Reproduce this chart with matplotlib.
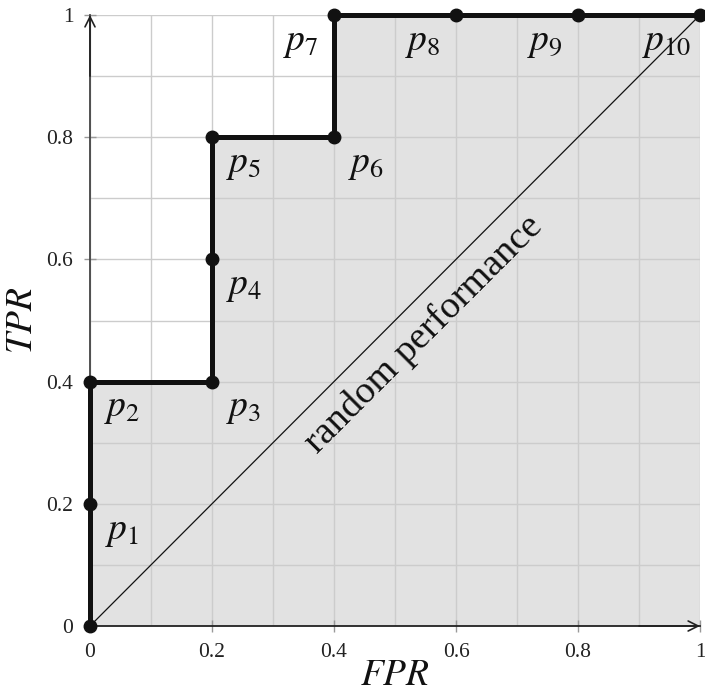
import matplotlib
matplotlib.use("Agg")
import matplotlib.pyplot as plt

fpr = [0, 0, 0, 0.2, 0.2, 0.2, 0.4, 0.4, 0.6, 0.8, 1.0]
tpr = [0, 0.2, 0.4, 0.4, 0.6, 0.8, 0.8, 1.0, 1.0, 1.0, 1.0]
point_labels = ["", "$p_1$", "$p_2$", "$p_3$", "$p_4$", "$p_5$", "$p_6$",
                "$p_7$", "$p_8$", "$p_9$", "$p_{10}$"]
tick_vals = [0, 0.2, 0.4, 0.6, 0.8, 1.0]
tick_labels = ["0", "0.2", "0.4", "0.6", "0.8", "1"]

plt.rcParams['font.family'] = ['Liberation Serif', 'DejaVu Serif']
plt.rcParams['mathtext.fontset'] = 'stix'

fig = plt.figure(figsize=(7.05, 6.96), dpi=100)
ax = fig.add_axes([90/705, 1-626/696, 610/705, 611/696])
ax.set_xlim(0, 1)
ax.set_ylim(0, 1)

ax.fill_between(fpr, tpr, 0, color='#e2e2e2', zorder=0.2, linewidth=0)
ax.set_axisbelow(True)
ax.set_xticks(tick_vals)
ax.set_yticks(tick_vals)
ax.set_xticklabels(tick_labels)
ax.set_yticklabels(tick_labels)
ax.set_xticks([i/10 for i in range(11)], minor=True)
ax.set_yticks([i/10 for i in range(11)], minor=True)
ax.grid(True, which='both', color='#cccccc', linewidth=1.0)
ax.tick_params(which='major', direction='inout', length=8, width=1,
               color='#999999', labelsize=15.5, pad=8, labelcolor='#222222')
ax.tick_params(which='minor', length=0)

for s in ['top', 'right']:
    ax.spines[s].set_visible(False)
ax.spines['left'].set_color('#444444')
ax.spines['bottom'].set_color('#222222')
ax.spines['left'].set_linewidth(1.3)
ax.spines['bottom'].set_linewidth(1.3)

ax.annotate('', xy=(0, 1.0), xytext=(0, 0.9), xycoords='data',
            arrowprops=dict(arrowstyle='->', color='#222222', lw=1.2,
                            mutation_scale=18, shrinkA=0, shrinkB=0),
            annotation_clip=False)
ax.annotate('', xy=(1.0, 0), xytext=(0.9, 0), xycoords='data',
            arrowprops=dict(arrowstyle='->', color='#222222', lw=1.2,
                            mutation_scale=18, shrinkA=0, shrinkB=0),
            annotation_clip=False)

ax.plot([0, 1], [0, 1], color='#111111', lw=0.9, zorder=3)
ax.plot(fpr, tpr, color='#111111', lw=3.6, marker='o', markersize=9,
        clip_on=False, zorder=4, solid_joinstyle='miter')

for i, (x, y, lab) in enumerate(zip(fpr, tpr, point_labels)):
    if not lab:
        continue
    dx = 0.052 if i <= 6 else -0.055
    ax.text(x + dx, y - 0.045, lab, fontsize=27, ha='center', va='center',
            color='#111111', zorder=5)

ax.text(0.548, 0.478, 'random performance', fontsize=27.5, rotation=45,
        rotation_mode='anchor', ha='center', va='center', color='#111111',
        zorder=5)

ax.text(0.5, -0.081, '$FPR$', transform=ax.transAxes, fontsize=27,
        ha='center', va='center', color='#111111')
ax.text(-0.111, 0.5, '$TPR$', transform=ax.transAxes, fontsize=27,
        ha='center', va='center', rotation=90, color='#111111')

fig.savefig('out.png', dpi=100)
